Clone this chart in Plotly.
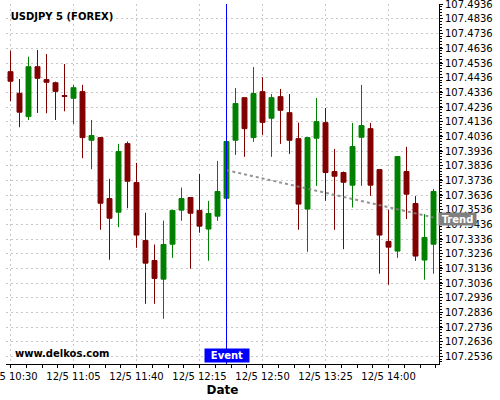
import plotly.graph_objects as go
import pandas as pd

title_text = "USDJPY 5 (FOREX)"
watermark = "www.delkos.com"

times = list(pd.date_range("2019-12-05 10:30", periods=48, freq="5min"))

opens = [107.4477, 107.4330, 107.4171, 107.4511, 107.4423, 107.4402, 107.4314, 107.4296,
         107.4341, 107.4010, 107.4028, 107.3613, 107.3520, 107.3987, 107.3722, 107.3327,
         107.3191, 107.3064, 107.3302, 107.3534, 107.3620, 107.3532, 107.3405, 107.3493,
         107.3615, 107.4010, 107.4300, 107.4028, 107.4341, 107.4160, 107.4307, 107.4198,
         107.4021, 107.3541, 107.4024, 107.4130, 107.3797, 107.3790, 107.3704, 107.4030,
         107.4089, 107.3810, 107.3321, 107.3255, 107.3797, 107.3579, 107.3194, 107.3302]
highs = [107.4620, 107.4427, 107.4579, 107.4625, 107.4597, 107.4409, 107.4529, 107.4387,
         107.4387, 107.4148, 107.4028, 107.3747, 107.3985, 107.4001, 107.3856, 107.3516,
         107.3300, 107.3463, 107.3536, 107.3688, 107.3622, 107.3781, 107.3597, 107.3869,
         107.4001, 107.4366, 107.4300, 107.4509, 107.4439, 107.4325, 107.4359, 107.4325,
         107.4130, 107.4028, 107.4298, 107.4230, 107.3951, 107.3797, 107.4128, 107.4387,
         107.4128, 107.3810, 107.3536, 107.3899, 107.3965, 107.3631, 107.3507, 107.3679]
lows = [107.4275, 107.4099, 107.4148, 107.4196, 107.4194, 107.4148, 107.4207, 107.4121,
        107.3888, 107.3813, 107.3400, 107.3196, 107.3418, 107.3547, 107.3277, 107.2896,
        107.2896, 107.2794, 107.3209, 107.3461, 107.3135, 107.3380, 107.3189, 107.3461,
        107.3615, 107.3910, 107.3897, 107.3999, 107.4046, 107.3897, 107.3985, 107.3917,
        107.3400, 107.3250, 107.3699, 107.3597, 107.3400, 107.3268, 107.3552, 107.3699,
        107.3631, 107.3101, 107.3026, 107.3209, 107.3473, 107.3189, 107.3060, 107.3101]
closes = [107.4412, 107.4201, 107.4511, 107.4432, 107.4405, 107.4343, 107.4309, 107.4368,
          107.4028, 107.4042, 107.3581, 107.3479, 107.3933, 107.3731, 107.3364, 107.3173,
          107.3069, 107.3300, 107.3532, 107.3613, 107.3513, 107.3425, 107.3511, 107.3661,
          107.4001, 107.4260, 107.4089, 107.4328, 107.4132, 107.4300, 107.4214, 107.4010,
          107.3575, 107.4028, 107.4137, 107.3790, 107.3765, 107.3724, 107.3967, 107.4110,
          107.3704, 107.3364, 107.3282, 107.3899, 107.3643, 107.3221, 107.3348, 107.3661]

tick_times = ["2019-12-05 10:30", "2019-12-05 11:05", "2019-12-05 11:40", "2019-12-05 12:15",
              "2019-12-05 12:50", "2019-12-05 13:25", "2019-12-05 14:00"]
tick_labels = ["12/5 10:30", "12/5 11:05", "12/5 11:40", "12/5 12:15",
               "12/5 12:50", "12/5 13:25", "12/5 14:00"]

event_time = "2019-12-05 12:30"
event_label = "Event"
trend_x = ["2019-12-05 12:30", "2019-12-05 14:25"]
trend_y = [107.3806, 107.3484]
trend_label = "Trend"
trend_label_y = 107.3474

FONT = "DejaVu Sans"

fig = go.Figure()
fig.add_trace(go.Candlestick(
    x=times, open=opens, high=highs, low=lows, close=closes,
    increasing=dict(line=dict(color="#008000", width=1), fillcolor="#008000"),
    decreasing=dict(line=dict(color="#800000", width=1), fillcolor="#800000"),
    whiskerwidth=0, showlegend=False, hoverinfo="skip",
))
fig.add_trace(go.Scatter(
    x=trend_x, y=trend_y, mode="lines",
    line=dict(color="rgba(128,128,128,0.85)", width=2, dash="dot"),
    showlegend=False, hoverinfo="skip",
))

fig.add_shape(type="line", xref="x", yref="paper", x0=event_time, x1=event_time,
              y0=0, y1=1, line=dict(color="#0000ff", width=1))

fig.add_annotation(x=event_time, xref="x", y=0, yref="paper", yanchor="bottom",
                   xanchor="center", text=event_label, showarrow=False, yshift=1,
                   font=dict(family=FONT, size=10, color="white", weight="bold"),
                   bgcolor="#0000ff", borderpad=1, width=42, height=11)
fig.add_annotation(x=1, xref="paper", y=trend_label_y, yref="y", xanchor="left",
                   yanchor="middle", text=trend_label, showarrow=False, xshift=-1,
                   font=dict(family=FONT, size=10, color="white", weight="bold"),
                   bgcolor="#808080", borderpad=1, width=35, height=10)
fig.add_annotation(x=0.0208, xref="paper", y=0.0278, yref="paper", xanchor="left",
                   yanchor="middle", text=watermark, showarrow=False, xshift=-2,
                   font=dict(family=FONT, size=10, color="black", weight="bold"))

fig.update_layout(
    width=500, height=400,
    margin=dict(l=6, r=61, t=4, b=36, autoexpand=False),
    paper_bgcolor="white", plot_bgcolor="white",
    boxgap=0.22,
    title=dict(text=title_text, x=0.0214, xanchor="left", xref="container",
               y=0.96, yanchor="middle", yref="container", automargin=False,
               font=dict(family=FONT, size=10, color="black", weight="bold")),
    font=dict(family=FONT, size=10, color="black"),
    xaxis=dict(
        type="date",
        automargin=False,
        range=["2019-12-05 10:27:30", "2019-12-05 14:28:03"],
        rangeslider=dict(visible=False),
        tickmode="array", tickvals=tick_times, ticktext=tick_labels,
        ticklabeloverflow="allow",
        ticks="outside", ticklen=3, tickcolor="black",
        showline=True, linecolor="black", linewidth=1,
        showgrid=True, gridcolor="#c8c8c8", griddash="2px,3px", gridwidth=1,
        zeroline=False,
        minor=dict(tick0="2019-12-05 10:30", dtick=525000, ticks="outside",
                   ticklen=3, tickcolor="black", showgrid=False),
        tickfont=dict(family=FONT, size=10, color="black"),
        title=dict(text="Date", standoff=4,
                   font=dict(family=FONT, size=12, color="black", weight="bold")),
    ),
    yaxis=dict(
        side="right",
        automargin=False,
        range=[107.2486, 107.4938],
        tick0=107.2536, dtick=0.01, tickformat=".4f",
        ticklabeloverflow="allow",
        ticks="outside", ticklen=3, tickcolor="black",
        showline=True, linecolor="black", linewidth=1,
        showgrid=True, gridcolor="#c8c8c8", griddash="2px,3px", gridwidth=1,
        zeroline=False,
        minor=dict(dtick=0.002, ticks="outside", ticklen=2, tickcolor="black",
                   showgrid=False),
        tickfont=dict(family=FONT, size=10, color="black"),
    ),
)

fig.write_html("out.html", config={"displayModeBar": False},
               post_script="document.body.style.margin='0px';document.body.style.padding='0px';")
